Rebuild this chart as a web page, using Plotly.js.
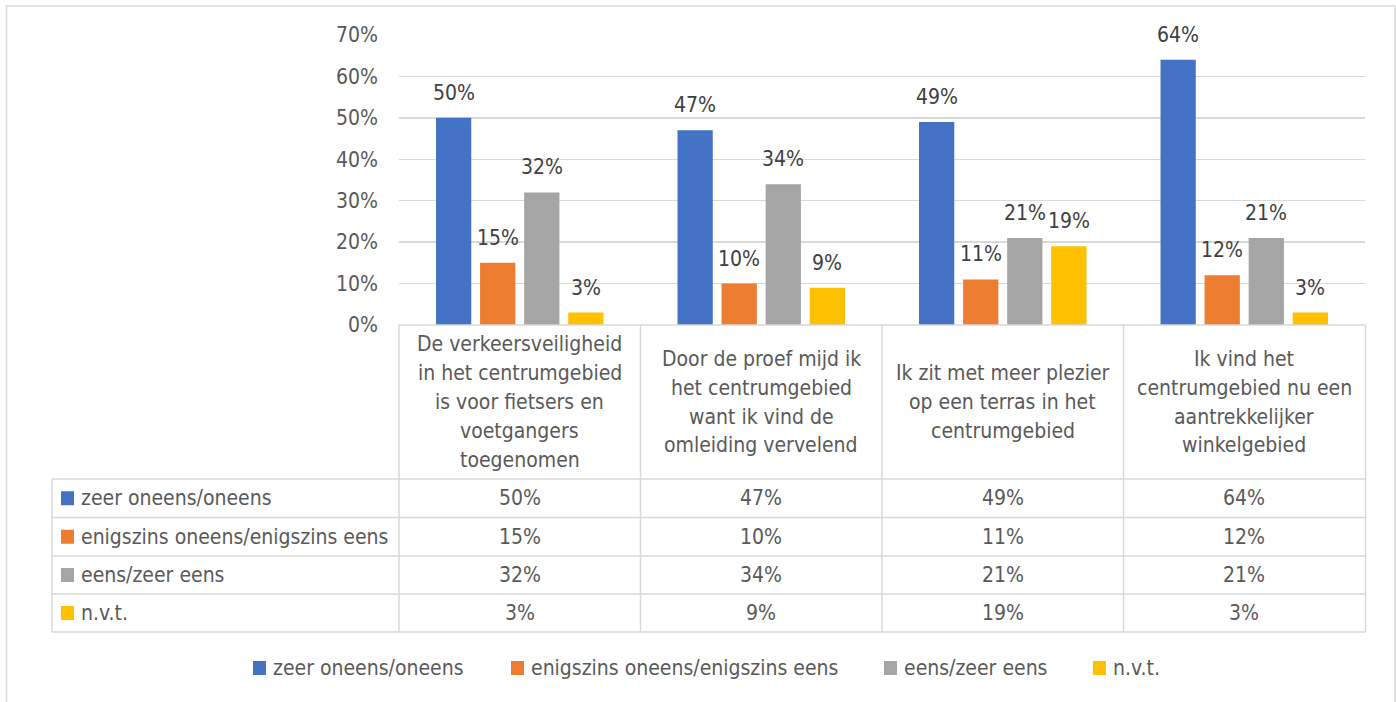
<!DOCTYPE html>
<html>
<head>
<meta charset="utf-8">
<script src="https://cdn.plot.ly/plotly-3.0.1.min.js"></script>
<style>html,body{margin:0;padding:0;background:#fff;}#chart{width:1396px;height:702px;}</style>
</head>
<body>
<div id="chart"></div>
<script>
// ---- data ----
const categories = [
  "De verkeersveiligheid<br>in het centrumgebied<br>is voor fietsers en<br>voetgangers<br>toegenomen",
  "Door de proef mijd ik<br>het centrumgebied<br>want ik vind de<br>omleiding vervelend",
  "Ik zit met meer plezier<br>op een terras in het<br>centrumgebied",
  "Ik vind het<br>centrumgebied nu een<br>aantrekkelijker<br>winkelgebied"
];
const seriesNames = ["zeer oneens/oneens", "enigszins oneens/enigszins eens", "eens/zeer eens", "n.v.t."];
const zeerOneens = [50, 47, 49, 64];
const enigszins = [15, 10, 11, 12];
const eens = [32, 34, 21, 21];
const nvt = [3, 9, 19, 3];
const yTicks = [0, 10, 20, 30, 40, 50, 60, 70];

// ---- styling / layout ----
const colors = ["#4472C4", "#ED7D31", "#A5A5A5", "#FFC000"];
const seriesValues = [zeerOneens, enigszins, eens, nvt];
const FONT = '"DejaVu Sans Condensed", "Liberation Sans Narrow", Roboto, sans-serif';
const FS = 21;
const W = 1396, H = 702;
const L = 399, R = 1365, T = 35, B = 325;
const px = x => (x - L) / (R - L);
const py = y => (B - y) / (B - T);
const grid = "#d9d9d9";
const textCol = "#595959";

const traces = seriesNames.map((name, i) => ({
  type: "bar",
  name: name,
  x: categories,
  y: seriesValues[i],
  marker: { color: colors[i] },
  cliponaxis: false,
  hoverinfo: "none",
  showlegend: false
}));

const shapes = [];
const annotations = [];
const line = (x0, y0, x1, y1, c) => shapes.push({
  type: "line", xref: "paper", yref: "paper",
  x0: px(x0), y0: py(y0), x1: px(x1), y1: py(y1),
  line: { color: c || grid, width: 1.5 }
});

// data labels above bars (grouped offsets)
seriesValues.forEach((vals, i) => {
  categories.forEach((c, j) => annotations.push({
    x: c, xref: "x", y: vals[j], yref: "y", text: vals[j] + "%",
    showarrow: false, xanchor: "center", yanchor: "middle",
    xshift: (i - 1.5) * 44, yshift: 25,
    font: { family: FONT, size: FS, color: "#404040" }
  }));
});

// outer border
shapes.push({ type: "rect", xref: "paper", yref: "paper", x0: px(6.5), x1: px(1395), y0: py(6), y1: py(712),
  line: { color: grid, width: 1.5 }, fillcolor: "rgba(0,0,0,0)" });

// table grid
const colBounds = [399, 640.5, 882, 1123.5, 1365.5];
const rowBounds = [479, 517.5, 556, 594, 632];
line(399, 325, 1365.5, 325);
rowBounds.forEach(y => line(52, y, 1365.5, y));
line(52, 479, 52, 632);
colBounds.forEach(x => line(x, 325, x, 632));

// header labels (categories), one annotation per line for Excel-like line spacing
categories.forEach(c => {
  const lines = c.split("<br>");
  lines.forEach((t, k) => annotations.push({
    x: c, xref: "x", y: py(402 + (k - (lines.length - 1) / 2) * 29), yref: "paper", text: t,
    showarrow: false, xanchor: "center", yanchor: "middle",
    font: { family: FONT, size: FS, color: textCol }
  }));
});

// table rows
seriesNames.forEach((name, i) => {
  const yc = (rowBounds[i] + rowBounds[i + 1]) / 2;
  shapes.push({ type: "rect", xref: "paper", yref: "paper",
    x0: px(61), x1: px(74), y0: py(yc - 7), y1: py(yc + 7),
    line: { width: 0 }, fillcolor: colors[i] });
  annotations.push({ x: px(79), xref: "paper", y: py(yc), yref: "paper", text: name,
    showarrow: false, xanchor: "left", yanchor: "middle",
    font: { family: FONT, size: FS, color: textCol } });
  categories.forEach((c, j) => annotations.push({
    x: c, xref: "x", y: py(yc), yref: "paper", text: seriesValues[i][j] + "%",
    showarrow: false, xanchor: "center", yanchor: "middle",
    font: { family: FONT, size: FS, color: textCol } }));
});

// bottom legend
const legX = [253, 511, 884, 1093];
seriesNames.forEach((name, i) => {
  shapes.push({ type: "rect", xref: "paper", yref: "paper",
    x0: px(legX[i]), x1: px(legX[i] + 13), y0: py(661), y1: py(675),
    line: { width: 0 }, fillcolor: colors[i] });
  annotations.push({ x: px(legX[i] + 18), xref: "paper", y: py(668), yref: "paper", text: name,
    showarrow: false, xanchor: "left", yanchor: "middle",
    font: { family: FONT, size: FS, color: textCol } });
});

const layout = {
  width: W, height: H,
  margin: { l: L, r: W - R, t: T, b: H - B, pad: 0 },
  paper_bgcolor: "#fff", plot_bgcolor: "#fff",
  font: { family: FONT, size: FS, color: textCol },
  barmode: "group", bargap: 0.27, bargroupgap: 0.2,
  showlegend: false,
  xaxis: { type: "category", showticklabels: false, showgrid: false, zeroline: false, showline: false, fixedrange: true },
  yaxis: {
    range: [0, 70], tickvals: yTicks, ticktext: yTicks.map(v => v + "%"),
    showgrid: true, gridcolor: grid, gridwidth: 1.5, zeroline: false, showline: false,
    ticks: "", ticklabelstandoff: 20,
    tickfont: { family: FONT, size: FS, color: textCol }, fixedrange: true
  },
  shapes: shapes,
  annotations: annotations
};

Plotly.newPlot("chart", traces, layout, { displayModeBar: false, staticPlot: true });
</script>
</body>
</html>
